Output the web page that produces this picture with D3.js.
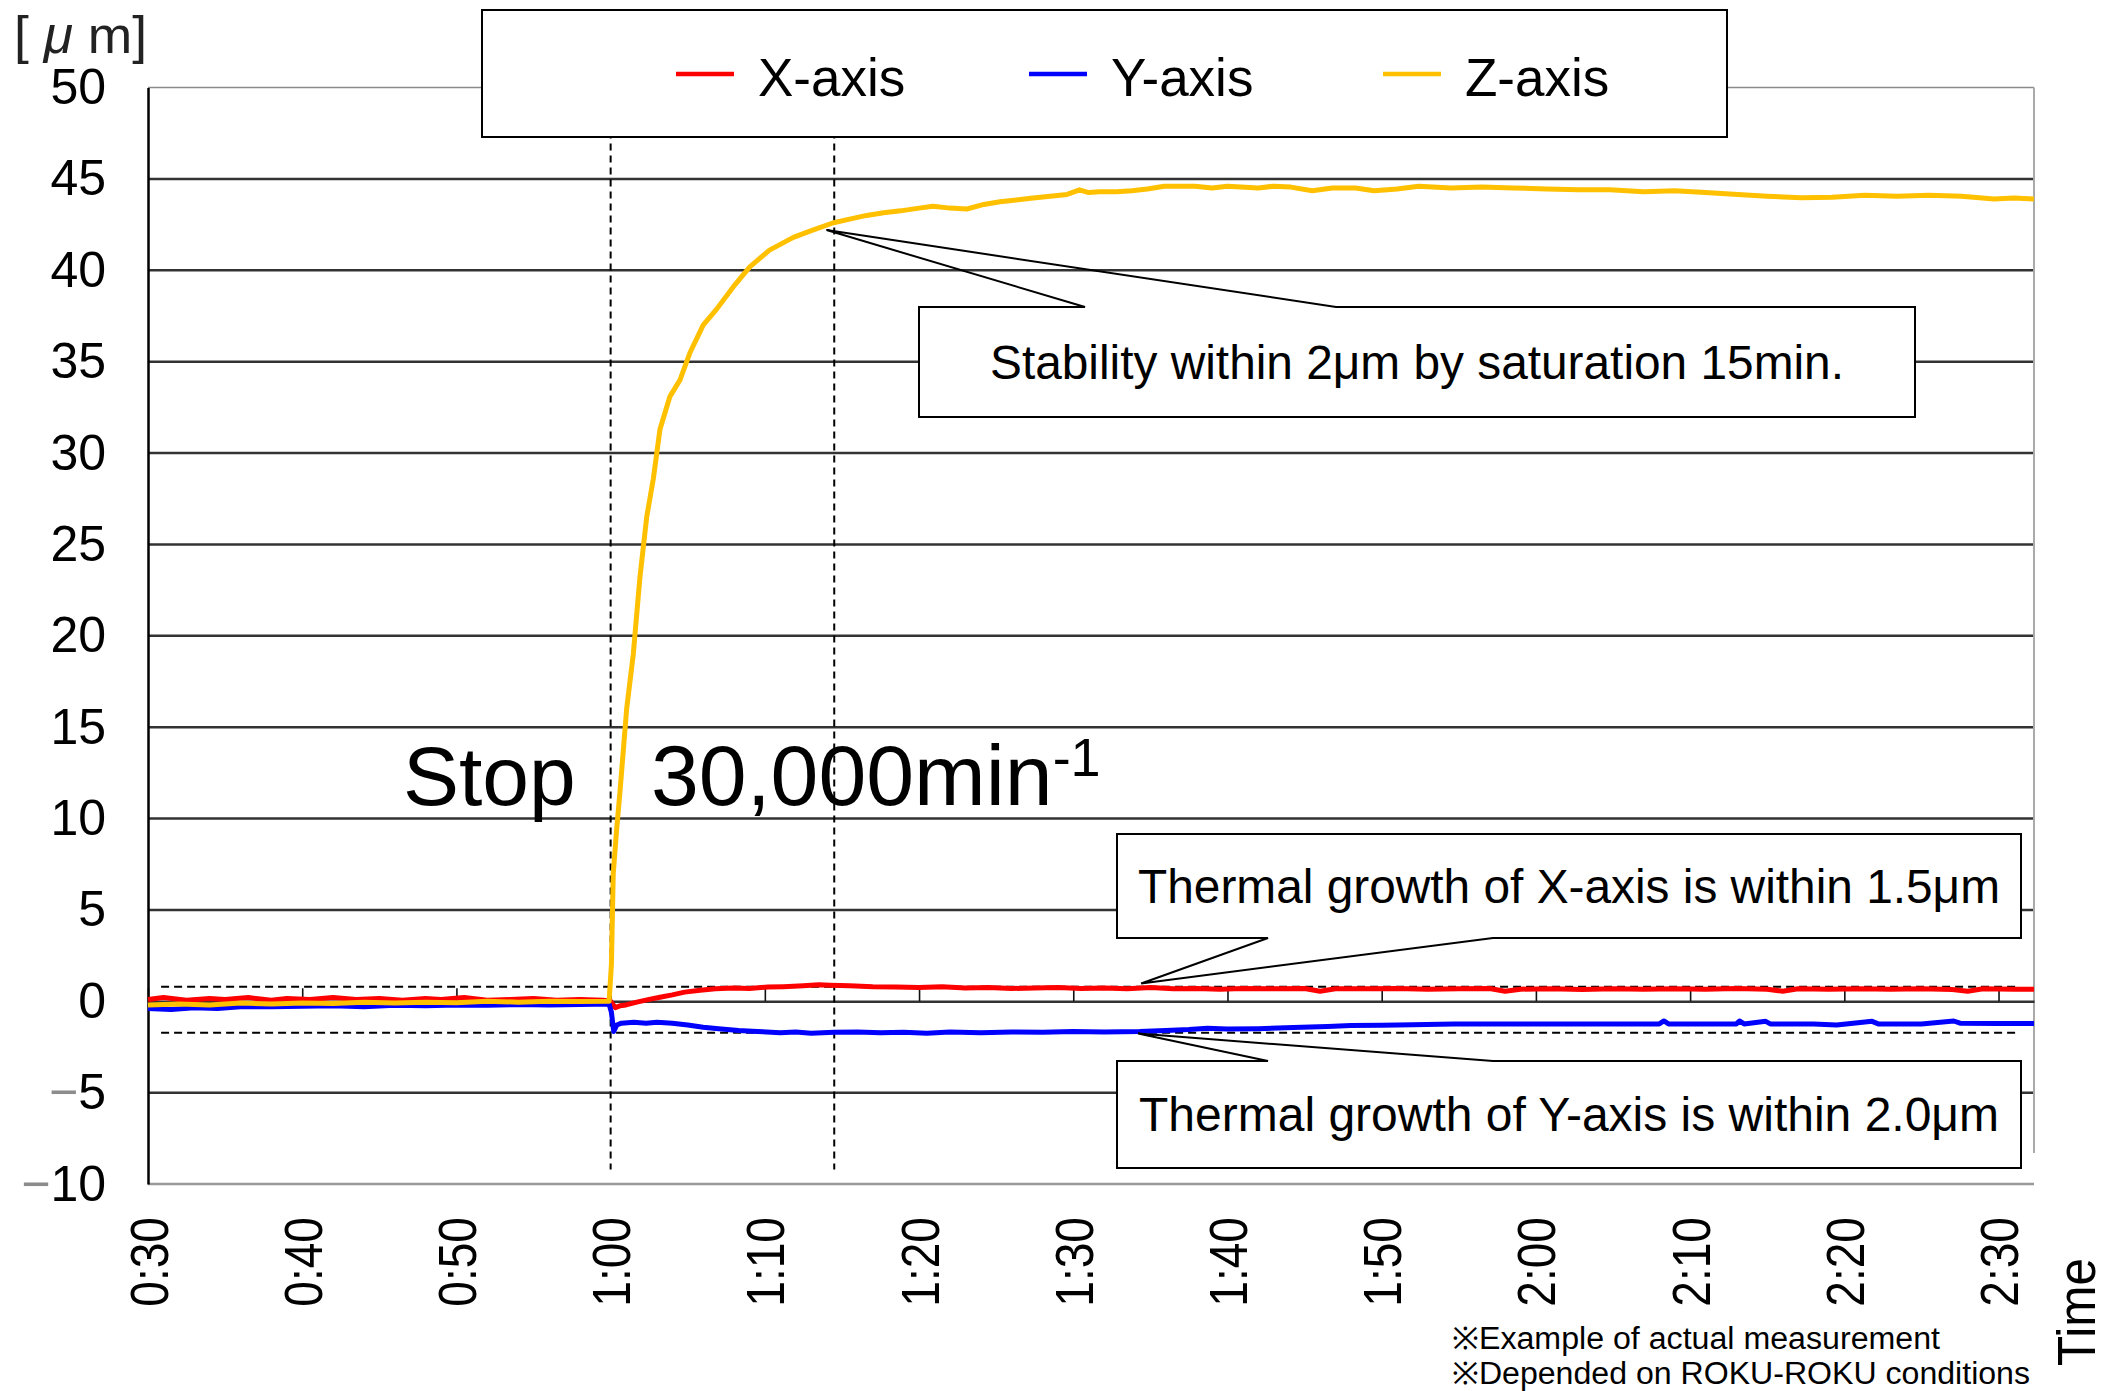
<!DOCTYPE html>
<html>
<head>
<meta charset="utf-8">
<script src="https://cdn.jsdelivr.net/npm/d3@7"></script>
<style>
  html, body { margin: 0; padding: 0; background: #fff; }
  svg { display: block; font-family: "Liberation Sans", Arial, sans-serif; }
</style>
</head>
<body>
<div id="chart"></div>
<script>
// time in minutes (0:30 -> 30), displacement in µm
const xTicks = [30, 40, 50, 60, 70, 80, 90, 100, 110, 120, 130, 140, 150];
const xTickLabels = ["0:30", "0:40", "0:50", "1:00", "1:10", "1:20", "1:30", "1:40", "1:50", "2:00", "2:10", "2:20", "2:30"];
const yTicks = [-10, -5, 0, 5, 10, 15, 20, 25, 30, 35, 40, 45, 50];

const seriesNames = ["X-axis", "Y-axis", "Z-axis"];
const seriesColors = ["#ff0000", "#0000ff", "#ffc000"];

const xAxisData = [
  [30, 0.1], [31, 0.2], [32.5, 0.05], [34, 0.15], [35, 0.1], [36.5, 0.2], [38, 0.05], [39, 0.15],
  [40.5, 0.1], [42, 0.2], [43.5, 0.1], [45, 0.15], [46.5, 0.05], [48, 0.15], [49, 0.1], [50.5, 0.2],
  [52, 0.05], [53.5, 0.1], [55, 0.15], [56.5, 0.05], [58, 0.1], [59.5, 0.05], [60, 0.0],
  [60.3, -0.35], [60.6, -0.25], [61, -0.2], [61.7, -0.05], [62.5, 0.1], [63.2, 0.22], [64, 0.35],
  [64.8, 0.5], [65.8, 0.6], [66.8, 0.68], [68, 0.72], [69, 0.7], [70.2, 0.78], [71.2, 0.8],
  [72.5, 0.85], [73.5, 0.9], [74.2, 0.88], [75.5, 0.85], [77, 0.8], [78.5, 0.78], [80, 0.75],
  [81.5, 0.8], [83, 0.72], [84.5, 0.75], [86, 0.7], [87.5, 0.72], [89, 0.75], [90.5, 0.7],
  [92, 0.72], [93.5, 0.68], [95, 0.75], [96.5, 0.68], [98, 0.7], [99.5, 0.66], [101, 0.7],
  [103, 0.68], [105, 0.7], [106, 0.55], [107, 0.68], [109, 0.68], [111, 0.7], [113, 0.65],
  [115, 0.68], [117, 0.7], [118, 0.55], [119, 0.66], [121, 0.68], [123, 0.64], [125, 0.68],
  [127, 0.66], [129, 0.68], [131, 0.65], [133, 0.7], [135, 0.66], [136, 0.55], [137, 0.68],
  [139, 0.65], [141, 0.68], [143, 0.66], [145, 0.68], [147, 0.64], [148, 0.55], [149, 0.68],
  [151, 0.66], [152.3, 0.65]
];

const yAxisData = [
  [30, -0.4], [31.5, -0.45], [33, -0.35], [34.5, -0.4], [36, -0.3], [38, -0.3], [40, -0.28],
  [42, -0.25], [44, -0.3], [46, -0.22], [48, -0.25], [50, -0.2], [52, -0.22], [54, -0.18],
  [56, -0.2], [58, -0.18], [59.9, -0.15], [60.05, -0.6], [60.2, -1.65], [60.4, -1.3],
  [60.7, -1.2], [61.5, -1.15], [62.3, -1.2], [63, -1.15], [64, -1.2], [65, -1.3], [66, -1.42],
  [67, -1.5], [68.3, -1.6], [69.5, -1.65], [71, -1.72], [72, -1.68], [73, -1.75], [74.5, -1.7],
  [76, -1.68], [77.5, -1.73], [79, -1.7], [80.5, -1.75], [82, -1.68], [84, -1.72], [86, -1.68],
  [88, -1.7], [90, -1.66], [92, -1.68], [94.3, -1.66], [96, -1.6], [97.5, -1.55], [98.7, -1.48],
  [100, -1.52], [102, -1.5], [104.8, -1.42], [106.5, -1.38], [108, -1.33], [110, -1.32],
  [112, -1.28], [114.7, -1.24], [118, -1.24], [121, -1.24], [124, -1.24], [128, -1.24],
  [128.3, -1.08], [128.6, -1.24], [133, -1.24], [133.2, -1.08], [133.5, -1.24], [134.9, -1.1],
  [135.2, -1.24], [138, -1.24], [139.5, -1.3], [141.8, -1.1], [142.2, -1.24], [145, -1.24],
  [147.1, -1.08], [147.5, -1.2], [150, -1.22], [152.3, -1.22]
];

const zAxisData = [
  [30, -0.2], [32, -0.15], [34, -0.2], [36, -0.1], [38, -0.15], [40, -0.1], [42, -0.12],
  [44, -0.05], [46, -0.1], [48, -0.05], [50, -0.08], [52, 0.0], [54, -0.05], [56, 0.0],
  [58, -0.02], [59.9, 0.0], [60.05, 2.0], [60.17, 7.0], [60.4, 9.5], [60.61, 11.5], [61.04, 16.0],
  [61.47, 19.0], [61.9, 23.2], [62.34, 26.5], [62.77, 28.6], [63.2, 31.3], [63.85, 33.1],
  [64.5, 34.0], [65.15, 35.5], [66.0, 37.0], [66.9, 37.9], [67.96, 39.1], [69.04, 40.2],
  [70.3, 41.1], [71.85, 41.8], [73.1, 42.2], [74.45, 42.6], [75.5, 42.8], [76.6, 43.0],
  [77.7, 43.15], [78.8, 43.25], [80, 43.4], [80.9, 43.5], [82, 43.4], [83.1, 43.35], [84.2, 43.6],
  [85.25, 43.75], [86.3, 43.85], [87.4, 43.95], [88.5, 44.05], [89.6, 44.15], [90.4, 44.4],
  [91, 44.25], [91.7, 44.3], [92.8, 44.3], [93.8, 44.35], [94.8, 44.45], [95.9, 44.6], [97.9, 44.6],
  [99, 44.5], [100, 44.6], [102, 44.5], [103, 44.6], [104.1, 44.55], [105.5, 44.35], [106.8, 44.5],
  [108.3, 44.5], [109.5, 44.35], [111, 44.45], [112.4, 44.6], [114.5, 44.5], [116.5, 44.55],
  [118.5, 44.5], [120.7, 44.45], [122.8, 44.4], [124.8, 44.4], [127, 44.3], [129, 44.35],
  [131, 44.25], [133.1, 44.15], [135, 44.05], [137.2, 43.97], [139.2, 44.0], [141.35, 44.1],
  [143.4, 44.05], [145.5, 44.1], [147.6, 44.05], [149.7, 43.9], [151, 43.95], [152.3, 43.9]
];

// guide lines: start of 30,000 rpm, end of saturation, and X/Y bands
const vGuides = [60, 74.5];
const hGuides = [0.8, -1.72];

const W = 2109, H = 1391;

const svg = d3.select("#chart").append("svg")
  .attr("width", W).attr("height", H);
svg.append("rect").attr("width", W).attr("height", H).attr("fill", "#fff");

const x = d3.scaleLinear().domain([30, 152.3]).range([148, 2034]);
const y = d3.scaleLinear().domain([-10, 50]).range([1184, 87.5]);

// horizontal grid
svg.append("g")
  .selectAll("line")
  .data(yTicks.filter(d => d !== 0 && d !== 50 && d !== -10))
  .join("line")
    .attr("x1", x(30)).attr("x2", x(152.3))
    .attr("y1", d => y(d)).attr("y2", d => y(d))
    .attr("stroke", "#333").attr("stroke-width", 2.5);

// frame: top and bottom grey, right grey (stops short), left black
svg.append("line").attr("x1", x(30)).attr("x2", x(152.3)).attr("y1", y(50)).attr("y2", y(50))
  .attr("stroke", "#8a8a8a").attr("stroke-width", 1.5);
svg.append("line").attr("x1", x(30)).attr("x2", x(152.3)).attr("y1", y(-10)).attr("y2", y(-10))
  .attr("stroke", "#999").attr("stroke-width", 2.5);
svg.append("line").attr("x1", x(152.3)).attr("x2", x(152.3)).attr("y1", y(50)).attr("y2", y(-8.3))
  .attr("stroke", "#aaa").attr("stroke-width", 2);

// zero line with small upward ticks
svg.append("g")
  .attr("transform", `translate(0,${y(0)})`)
  .call(d3.axisTop(x).tickValues(xTicks).tickSize(13).tickSizeOuter(0).tickFormat(""))
  .call(g => g.select(".domain").attr("stroke", "#333").attr("stroke-width", 2.5))
  .call(g => g.selectAll(".tick line").attr("stroke", "#111").attr("stroke-width", 1.6));

// y axis
svg.append("g")
  .attr("transform", `translate(${x(30)},0)`)
  .call(d3.axisLeft(y).tickValues(yTicks).tickSize(0).tickPadding(42))
  .call(g => g.select(".domain").attr("stroke", "#000").attr("stroke-width", 2.5))
  .call(g => g.selectAll(".tick text")
    .attr("font-size", 50)
    .attr("font-family", "'Liberation Sans', Arial, sans-serif")
    .attr("fill", "#000")
    .each(function(d) {
      const t = d3.select(this).text("");
      if (d < 0) t.append("tspan").attr("fill", "#8c8c8c").text("\u2212");
      t.append("tspan").text(Math.abs(d));
    }));

// x axis labels (rotated)
svg.append("g")
  .attr("transform", `translate(0,${y(-10)})`)
  .call(d3.axisBottom(x).tickValues(xTicks).tickSize(0).tickFormat((d, i) => xTickLabels[i]))
  .call(g => g.select(".domain").remove())
  .call(g => g.selectAll(".tick text")
    .attr("font-size", 53)
    .attr("font-family", "'Liberation Sans', Arial, sans-serif")
    .attr("fill", "#000")
    .attr("x", 0).attr("y", 0).attr("dy", "0.36em")
    .attr("text-anchor", "end")
    .attr("transform", "translate(0,33) rotate(-90) scale(0.87,1)"));

// dashed guides
svg.append("g")
  .selectAll("line")
  .data(vGuides)
  .join("line")
    .attr("x1", d => x(d)).attr("x2", d => x(d))
    .attr("y1", y(48.9)).attr("y2", y(-9.2))
    .attr("stroke", "#000").attr("stroke-width", 2).attr("stroke-dasharray", "7,5");
svg.append("g")
  .selectAll("line")
  .data(hGuides)
  .join("line")
    .attr("x1", x(30.85)).attr("x2", x(151.4))
    .attr("y1", d => y(d)).attr("y2", d => y(d))
    .attr("stroke", "#000").attr("stroke-width", 2).attr("stroke-dasharray", "8,5");

// series
const line = d3.line().x(d => x(d[0])).y(d => y(d[1]));
svg.append("g")
  .selectAll("path")
  .data([xAxisData, yAxisData, zAxisData])
  .join("path")
    .attr("d", line)
    .attr("fill", "none")
    .attr("stroke", (d, i) => seriesColors[i])
    .attr("stroke-width", 5)
    .attr("stroke-linejoin", "round");

// axis captions
const unit = svg.append("text")
  .attr("x", 14).attr("y", 53)
  .attr("font-size", 52).attr("fill", "#222")
  .attr("textLength", 133).attr("lengthAdjust", "spacingAndGlyphs");
unit.append("tspan").text("[ ");
unit.append("tspan").attr("font-style", "italic").text("\u03bc");
unit.append("tspan").text(" m]");

svg.append("text")
  .attr("transform", "translate(2095,1258) rotate(-90)")
  .attr("text-anchor", "end")
  .attr("font-size", 54)
  .attr("textLength", 108).attr("lengthAdjust", "spacingAndGlyphs")
  .text("Time");

svg.append("text").attr("x", 1452).attr("y", 1349)
  .attr("font-size", 31).attr("textLength", 488).attr("lengthAdjust", "spacingAndGlyphs")
  .text("\u203bExample of actual measurement");
svg.append("text").attr("x", 1452).attr("y", 1384)
  .attr("font-size", 31).attr("textLength", 578).attr("lengthAdjust", "spacingAndGlyphs")
  .text("\u203bDepended on ROKU-ROKU conditions");

// Stop / speed text
svg.append("text").attr("x", 403).attr("y", 805).attr("font-size", 84).text("Stop");
const rpm = svg.append("text").attr("x", 651).attr("y", 805).attr("font-size", 86);
rpm.append("tspan").text("30,000min");
rpm.append("tspan").attr("font-size", 54).attr("dy", -29).text("-1");

// callouts
const callouts = [
  { box: [919, 307, 1915, 417], base: [1085, 1336], side: "top", tip: [74.0, 42.2],
    text: "Stability within 2\u03bcm by saturation 15min.", tl: 854, ty: 379 },
  { box: [1117, 834, 2021, 938], base: [1268, 1493], side: "bottom", tip: [94.4, 0.97],
    text: "Thermal growth of X-axis is within 1.5\u03bcm", tl: 862, ty: 903 },
  { box: [1117, 1061, 2021, 1168], base: [1268, 1493], side: "top", tip: [94.2, -1.77],
    text: "Thermal growth of Y-axis is within 2.0\u03bcm", tl: 860, ty: 1131 }
];
callouts.forEach(c => {
  const [x0, y0, x1, y1] = c.box;
  const tx = x(c.tip[0]), ty = y(c.tip[1]);
  const g = svg.append("g");
  g.append("rect").attr("x", x0).attr("y", y0).attr("width", x1 - x0).attr("height", y1 - y0)
    .attr("fill", "#fff");
  let d;
  if (c.side === "top") {
    d = `M${x0},${y0}L${c.base[0]},${y0}L${tx},${ty}L${c.base[1]},${y0}L${x1},${y0}L${x1},${y1}L${x0},${y1}Z`;
  } else {
    d = `M${x0},${y0}L${x1},${y0}L${x1},${y1}L${c.base[1]},${y1}L${tx},${ty}L${c.base[0]},${y1}L${x0},${y1}Z`;
  }
  g.append("path").attr("d", d).attr("fill", "none").attr("stroke", "#000").attr("stroke-width", 2);
  g.append("text")
    .attr("x", (x0 + x1) / 2).attr("y", c.ty)
    .attr("text-anchor", "middle").attr("font-size", 48)
    .attr("textLength", c.tl).attr("lengthAdjust", "spacingAndGlyphs")
    .text(c.text);
});

// legend
const legend = svg.append("g");
legend.append("rect")
  .attr("x", 482).attr("y", 10).attr("width", 1245).attr("height", 127)
  .attr("fill", "#fff").attr("stroke", "#000").attr("stroke-width", 2);
const legendX = [676, 1029, 1383];
const item = legend.selectAll("g")
  .data(seriesNames)
  .join("g")
    .attr("transform", (d, i) => `translate(${legendX[i]},74)`);
item.append("line")
  .attr("x1", 0).attr("x2", 58)
  .attr("stroke", (d, i) => seriesColors[i]).attr("stroke-width", 4.5);
item.append("text")
  .attr("x", 82).attr("y", 22)
  .attr("font-size", 53)
  .text(d => d);
</script>
</body>
</html>
